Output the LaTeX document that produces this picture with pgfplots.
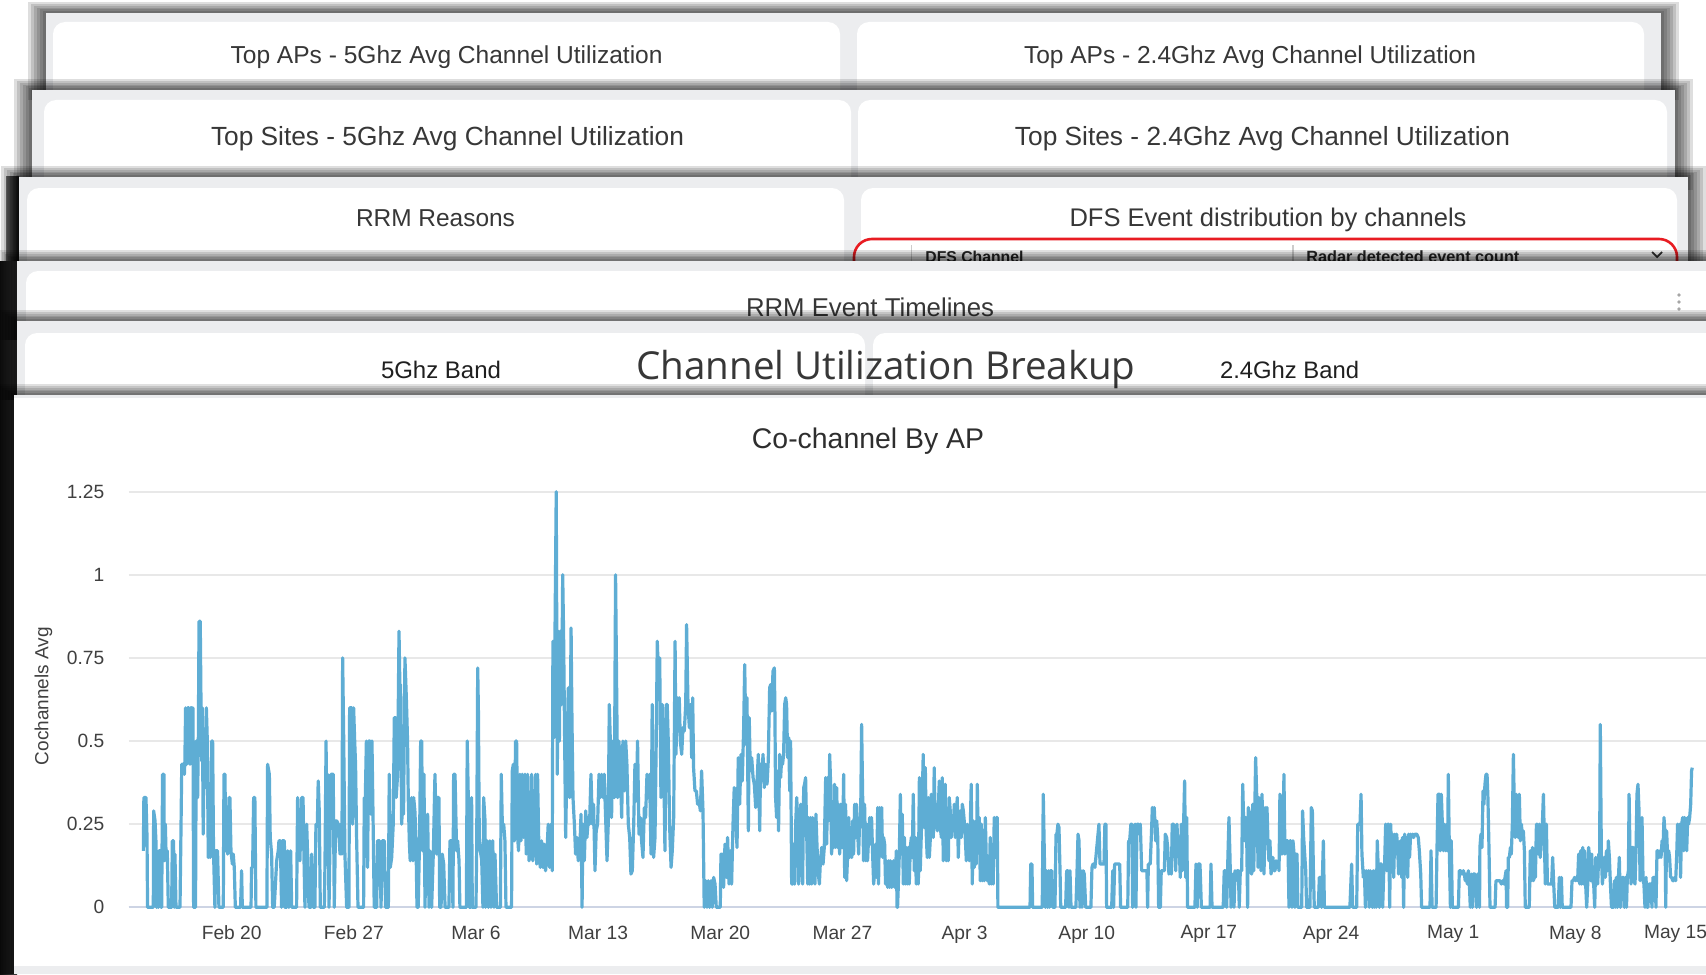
\documentclass[border=0pt]{standalone}
\usepackage{fontspec}
\setmainfont{Liberation Sans}
\newfontfamily\opensans{Open Sans}
\usepackage{graphicx}
\usepackage{pgfplots}
\pgfplotsset{compat=1.18}
\definecolor{linec}{RGB}{94,173,212}
\definecolor{panel}{RGB}{236,237,239}
\definecolor{hdr}{RGB}{55,55,55}
\definecolor{gridc}{RGB}{232,232,232}
\definecolor{basec}{RGB}{205,212,228}
\definecolor{tickc}{RGB}{64,64,64}
\definecolor{redb}{RGB}{232,28,34}
\newlength\pxu \setlength\pxu{0.5pt}
\newcommand\fitw[2]{\resizebox{#1\pxu}{!}{#2}}
\newcommand\cardshadow[5]{\foreach \s in {18,15,12,9,6,3}{\fill[black,opacity=#5] ({#1-\s},{#2-0.6*\s}) rectangle ({#3+\s},#4);}}
\begin{document}
\begin{tikzpicture}
\path[use as bounding box] (0,0) rectangle (853pt,-487pt);
\begin{scope}[x=0.5pt,y=-0.5pt]
\fill[white] (0,0) rectangle (1706,974);
% card 1
\cardshadow{46}{13}{1661}{100}{0.13}
\fill[panel] (46,13) rectangle (1661,100);
\fill[white, rounded corners=6] (53,22) rectangle (840,112);
\fill[white, rounded corners=6] (857,22) rectangle (1644,112);
\node[anchor=base, text=hdr, inner sep=0pt] at (446.6,63.3) {\fitw{432}{Top APs - 5Ghz Avg Channel Utilization}};
\node[anchor=base, text=hdr, inner sep=0pt] at (1250,63.3) {\fitw{452}{Top APs - 2.4Ghz Avg Channel Utilization}};
% card 2
\cardshadow{32}{90}{1675}{190}{0.13}
\fill[panel] (32,90) rectangle (1675,190);
\fill[white, rounded corners=6] (44,100) rectangle (851,200);
\fill[white, rounded corners=6] (858,100) rectangle (1667,200);
\node[anchor=base, text=hdr, inner sep=0pt] at (447.5,145.7) {\fitw{473}{Top Sites - 5Ghz Avg Channel Utilization}};
\node[anchor=base, text=hdr, inner sep=0pt] at (1262.5,145.7) {\fitw{495}{Top Sites - 2.4Ghz Avg Channel Utilization}};
% card 3
\shade[left color=black!55, right color=black!90] (6,176) rectangle (19,262);
\cardshadow{19}{177}{1688}{280}{0.13}
\fill[panel] (19,177) rectangle (1688,280);
\fill[white, rounded corners=6] (27,188) rectangle (844,290);
\fill[white, rounded corners=6] (861,188) rectangle (1677,290);
\node[anchor=base, text=hdr, inner sep=0pt] at (435.5,226) {\fitw{159}{RRM Reasons}};
\node[anchor=base, text=hdr, inner sep=0pt] at (1268,226) {\fitw{397}{DFS Event distribution by channels}};
\fill[white, rounded corners=9] (854,239) rectangle (1677,300);
\draw[redb, line width=1.3pt, rounded corners=9] (854,239) rectangle (1677,300);
\draw[black!20, line width=0.8pt] (911.5,245) -- (911.5,262);
\draw[black!20, line width=0.8pt] (1292.7,245) -- (1292.7,262);
\node[anchor=base west, text=black!85, inner sep=0pt] at (925,262.5) {\fitw{98}{\bfseries DFS Channel}};
\node[anchor=base west, text=black!85, inner sep=0pt] at (1306,262.5) {\fitw{213}{\bfseries Radar detected event count}};
\draw[black!80, line width=0.9pt] (1652,252) -- (1657,257) -- (1662,252);
% dark left band
\shade[left color=black!95, right color=black!75] (0,261) rectangle (17,974);
% card 4
\cardshadow{16.5}{261}{1720}{340}{0.12}
\fill[panel] (16.5,261) rectangle (1720,340);
\fill[white, rounded corners=6] (26,271) rectangle (1720,350);
\node[anchor=base, text=hdr, inner sep=0pt] at (870,316.7) {\fitw{248}{RRM Event Timelines}};
\fill[black!35] (1679,295) circle (1.8);
\fill[black!35] (1679,302) circle (1.8);
\fill[black!35] (1679,309) circle (1.8);
% card 5
\cardshadow{16.5}{321}{1720}{400}{0.12}
\fill[panel] (16.5,321) rectangle (1720,400);
\fill[white, rounded corners=6] (25,333) rectangle (865,410);
\fill[white, rounded corners=6] (873,333) rectangle (1720,410);
\node[anchor=base, text=black!88, inner sep=0pt] at (441,378.3) {\fitw{120}{5Ghz Band}};
\node[anchor=base, text=black!88, inner sep=0pt] at (1289.5,378.3) {\fitw{139}{2.4Ghz Band}};
\node[anchor=base, text=hdr, inner sep=0pt] at (886,379.3) {\fitw{499}{\opensans Channel Utilization Breakup}};
% card 6
\cardshadow{14}{395}{1720}{974}{0.12}
\fill[panel] (14,395) rectangle (1720,974);
\fill[white] (14,398) rectangle (1720,966);
\node[anchor=base, text=black!82, inner sep=0pt, font=\fontsize{14.2}{16}\selectfont] at (868,448.3) {Co-channel By AP};
\end{scope}
\begin{axis}[
  at={(64.35pt,-453.65pt)}, anchor=south west, scale only axis,
  width=788.75pt, height=211.15pt,
  xmin=-5.9, xmax=84.5, ymin=0, ymax=1.27,
  clip=false,
  axis x line*=bottom, axis y line*=left,
  x axis line style={basec, line width=1pt},
  y axis line style={draw=none},
  major tick length=0pt,
  ymajorgrids, grid style={gridc, line width=1pt},
  ytick={0,0.25,0.5,0.75,1,1.25},
  yticklabels={0,0.25,0.5,0.75,1,1.25},
  xtick={0,7,...,77},
  xticklabels={Feb 20,Feb 27,Mar 6,Mar 13,Mar 20,Mar 27,Apr 3,Apr 10,Apr 17,Apr 24,May 1,May 8},
  extra x ticks={84}, extra x tick labels={May 15},
  extra x tick style={xticklabel style={xshift=-11pt}},
  ticklabel style={font=\fontsize{9.6}{11}\selectfont, text=tickc},
  xticklabel style={anchor=north, inner sep=0pt, yshift=-9pt},
  yticklabel style={anchor=east, inner sep=0pt, xshift=-12pt},
  ylabel={Cochannels Avg},
  ylabel style={at={(axis description cs:-0.054,0.5)}, anchor=center, font=\fontsize{9.5}{11}\selectfont, text=tickc},
]
\addplot[color=linec, line width=1.6pt, line join=round] coordinates {
(-5.06,0.17) (-5.03,0.33) (-4.91,0.33) (-4.85,0.21) (-4.82,0) (-4.49,0) (-4.47,0.29) (-4.39,0.26) (-4.34,0.2) (-4.30,0) (-4.26,0.15) (-4.20,0) (-4.17,0.17) (-4.07,0.17) (-4.05,0) (-4.01,0) (-3.96,0.4) (-3.88,0.4) (-3.86,0.14) (-3.80,0.25) (-3.75,0.14) (-3.69,0.17) (-3.63,0) (-3.44,0) (-3.40,0.2) (-3.33,0.2) (-3.29,0) (-3.25,0.16) (-3.19,0) (-2.96,0) (-2.90,0.25) (-2.86,0.43) (-2.75,0.43) (-2.71,0.4) (-2.68,0.44) (-2.64,0.6) (-2.58,0.43) (-2.52,0.6) (-2.45,0.6) (-2.39,0.43) (-2.35,0.6) (-2.29,0.6) (-2.26,0.43) (-2.22,0.6) (-2.18,0) (-2.07,0) (-2.03,0.5) (-1.95,0.33) (-1.91,0.5) (-1.87,0.86) (-1.80,0.86) (-1.76,0.63) (-1.72,0.44) (-1.68,0.6) (-1.63,0.22) (-1.57,0.5) (-1.51,0.36) (-1.45,0.6) (-1.40,0.51) (-1.34,0.15) (-1.28,0.17) (-1.23,0.15) (-1.15,0.5) (-1.09,0.5) (-1.04,0.17) (-0.96,0) (-0.92,0.17) (-0.81,0.17) (-0.73,0) (-0.48,0) (-0.44,0.4) (-0.38,0.4) (-0.35,0.17) (-0.29,0.28) (-0.23,0.16) (-0.15,0.33) (-0.10,0.33) (-0.04,0.17) (0.04,0.13) (0.09,0.16) (0.15,0.12) (0.21,0) (0.51,0) (0.57,0.11) (0.61,0) (1.11,0) (1.14,0.12) (1.20,0.12) (1.26,0.33) (1.33,0.33) (1.39,0) (2.02,0) (2.06,0.43) (2.16,0.4) (2.21,0.21) (2.29,0.16) (2.35,0) (2.44,0) (2.58,0.14) (2.67,0.17) (2.71,0.2) (2.79,0.2) (2.86,0) (2.90,0.2) (3.02,0.2) (3.05,0) (3.15,0) (3.21,0.17) (3.28,0) (3.38,0.17) (3.44,0) (3.72,0) (3.78,0.33) (3.86,0.17) (3.91,0.14) (4.01,0.33) (4.09,0.33) (4.14,0.16) (4.20,0) (4.30,0.25) (4.35,0.16) (4.43,0) (4.54,0) (4.58,0.16) (4.68,0) (4.77,0) (4.83,0.25) (4.91,0.25) (4.96,0.38) (5.02,0.29) (5.08,0) (5.31,0) (5.35,0.14) (5.41,0.5) (5.46,0.16) (5.50,0.4) (5.58,0) (5.69,0.4) (5.82,0.4) (5.88,0) (5.96,0.26) (6.02,0.26) (6.11,0.25) (6.21,0.16) (6.26,0.25) (6.32,0.16) (6.36,0.75) (6.42,0.51) (6.49,0.16) (6.59,0) (6.72,0) (6.76,0.6) (6.88,0.6) (6.93,0.25) (6.99,0.6) (7.05,0.5) (7.10,0.43) (7.16,0.21) (7.24,0) (7.56,0) (7.60,0.33) (7.66,0.33) (7.72,0.5) (7.79,0.12) (7.85,0.5) (7.93,0.5) (7.98,0.28) (8.04,0.5) (8.10,0.28) (8.17,0) (8.31,0) (8.36,0.2) (8.48,0.2) (8.56,0) (8.63,0.2) (8.75,0.2) (8.82,0) (8.98,0) (9.03,0.4) (9.09,0.12) (9.17,0.15) (9.26,0.25) (9.32,0.57) (9.40,0.57) (9.43,0.33) (9.51,0.4) (9.59,0.83) (9.65,0.63) (9.68,0.67) (9.74,0.25) (9.80,0.31) (9.85,0.28) (9.93,0.75) (10.01,0.63) (10.08,0.5) (10.12,0.33) (10.18,0.2) (10.23,0.14) (10.31,0.33) (10.39,0.14) (10.43,0.33) (10.50,0.29) (10.56,0.21) (10.62,0) (10.69,0) (10.77,0.21) (10.83,0.5) (10.89,0.5) (10.94,0.17) (11.02,0.4) (11.08,0) (11.15,0.25) (11.23,0.28) (11.31,0) (11.36,0.17) (11.46,0) (11.56,0.17) (11.65,0.4) (11.75,0.16) (11.81,0.33) (11.88,0.33) (11.92,0) (12.00,0) (12.07,0.16) (12.15,0.13) (12.23,0) (12.45,0) (12.51,0.2) (12.61,0.2) (12.68,0) (12.72,0.4) (12.80,0.40)
(12.89,0.17) (12.95,0.20) (13.03,0.14) (13.08,0) (13.45,0) (13.50,0.50) (13.56,0.33) (13.62,0) (13.71,0) (13.75,0.33) (13.79,0) (14.00,0) (14.04,0.17) (14.10,0.72) (14.14,0.59) (14.19,0.21) (14.25,0.17) (14.33,0.14) (14.40,0) (14.44,0.33) (14.52,0.26) (14.55,0) (14.63,0.20) (14.71,0) (14.80,0.20) (14.86,0) (14.96,0.20) (15.03,0) (15.09,0.16) (15.18,0) (15.40,0) (15.45,0.40) (15.51,0.25) (15.59,0.25) (15.66,0.20) (15.72,0) (16.04,0) (16.08,0.41) (16.14,0.43) (16.20,0.20) (16.27,0.50) (16.33,0.50) (16.39,0.21) (16.44,0.17) (16.52,0.40) (16.58,0.20) (16.65,0.40) (16.73,0.21) (16.81,0.40) (16.88,0.16) (16.96,0.40) (17.04,0.14) (17.11,0.16) (17.19,0.40) (17.26,0.14) (17.34,0.19) (17.42,0.40) (17.48,0.13) (17.53,0.40) (17.61,0.16) (17.69,0.12) (17.76,0.20) (17.84,0.12) (17.91,0.19) (17.99,0.11) (18.07,0.17) (18.14,0.25) (18.22,0.12) (18.30,0.25) (18.37,0.11) (18.41,0.80) (18.47,0.51) (18.53,0.83) (18.60,1.25) (18.66,0.40) (18.72,0.83) (18.78,0.50) (18.83,0.83) (18.91,0.61) (18.97,1.0) (19.02,0.83) (19.08,0.51) (19.14,0.21) (19.22,0.46) (19.29,0.66) (19.37,0.33) (19.45,0.84) (19.50,0.57) (19.56,0.33) (19.64,0.25) (19.71,0.16) (19.79,0.21) (19.86,0.14) (19.94,0.16) (20.02,0.28) (20.08,0) (20.13,0.25) (20.21,0.14) (20.29,0.29) (20.36,0.21) (20.44,0.27) (20.51,0.25) (20.59,0.40) (20.67,0.25) (20.74,0.31) (20.82,0.11) (20.89,0.23) (20.97,0.25) (21.05,0.40) (21.12,0.33) (21.20,0.40) (21.28,0.33) (21.35,0.40) (21.43,0.27) (21.51,0.14) (21.58,0.25) (21.64,0.61) (21.70,0.50) (21.77,0.27) (21.85,0.50) (21.93,0.33) (22.00,1.0) (22.06,0.67) (22.12,0.33) (22.19,0.50) (22.27,0.43) (22.35,0.27) (22.42,0.50) (22.50,0.35) (22.58,0.50) (22.65,0.43) (22.73,0.25) (22.81,0.21) (22.88,0.10) (22.96,0.11) (23.04,0.25) (23.11,0.43) (23.19,0.32) (23.26,0.50) (23.34,0.22) (23.42,0.27) (23.49,0.20) (23.57,0.15) (23.65,0.30) (23.72,0.27) (23.80,0.40) (23.88,0.33) (23.95,0.40) (24.03,0.16) (24.10,0.61) (24.18,0.15) (24.26,0.21) (24.33,0.50) (24.39,0.80) (24.45,0.71) (24.53,0.75) (24.60,0.33) (24.68,0.61) (24.76,0.43) (24.83,0.17) (24.91,0.61) (24.96,0.61) (25.02,0.50) (25.10,0.24) (25.18,0.12) (25.25,0.17) (25.33,0.27) (25.41,0.80) (25.46,0.46) (25.54,0.63) (25.60,0.53) (25.65,0.63) (25.71,0.50) (25.79,0.46) (25.86,0.54) (25.94,0.53) (26.02,0.61) (26.07,0.85) (26.15,0.61) (26.23,0.54) (26.30,0.61) (26.36,0.45) (26.42,0.63) (26.47,0.42) (26.55,0.35) (26.63,0.35) (26.70,0.31) (26.78,0.32) (26.86,0.29) (26.93,0.41) (27.01,0.29) (27.08,0) (27.16,0.08) (27.24,0) (27.31,0.08) (27.39,0) (27.47,0.08) (27.54,0) (27.62,0.09) (27.70,0.07) (27.77,0) (28.00,0) (28.04,0.16) (28.12,0.16) (28.19,0.06) (28.27,0.19) (28.35,0.09) (28.42,0.21) (28.50,0.07) (28.58,0.17) (28.65,0.07) (28.73,0.25) (28.80,0.36) (28.88,0.28) (28.96,0.18) (29.03,0.45) (29.11,0.31) (29.19,0.46) (29.26,0.38) (29.34,0.54) (29.40,0.73) (29.47,0.49) (29.53,0.63) (29.61,0.23) (29.66,0.57) (29.72,0.41) (29.80,0.45) (29.88,0.39) (29.95,0.37) (30.03,0.30) (30.11,0.38) (30.18,0.46) (30.26,0.23) (30.31,0.43) (30.37,0.38) (30.45,0.46) (30.52,0.36) (30.60,0.43) (30.68,0.37) (30.75,0.44) (30.83,0.66) (30.89,0.67) (30.95,0.59) (31.02,0.71) (31.10,0.72)
(31.13,0.59) (31.17,0.33) (31.23,0.27) (31.29,0.41) (31.34,0.23) (31.40,0.46) (31.46,0.39) (31.52,0.45) (31.57,0.43) (31.63,0.46) (31.69,0.61) (31.75,0.63) (31.80,0.61) (31.86,0.45) (31.92,0.51) (31.98,0.35) (32.03,0.50) (32.09,0.07) (32.15,0.07) (32.20,0.19) (32.26,0.07) (32.32,0.25) (32.38,0.33) (32.43,0.27) (32.49,0.07) (32.55,0.15) (32.61,0.31) (32.66,0.23) (32.72,0.07) (32.78,0.36) (32.83,0.37) (32.89,0.39) (32.95,0.23) (33.01,0.07) (33.06,0.27) (33.12,0.07) (33.18,0.27) (33.24,0.07) (33.29,0.27) (33.35,0.19) (33.43,0.07) (33.48,0.28) (33.54,0.19) (33.60,0.11) (33.68,0.07) (33.73,0.13) (33.81,0.18) (33.89,0.13) (33.96,0.18) (34.04,0.39) (34.10,0.19) (34.15,0.39) (34.21,0.26) (34.27,0.46) (34.33,0.36) (34.38,0.16) (34.44,0.29) (34.50,0.18) (34.55,0.37) (34.61,0.18) (34.67,0.36) (34.73,0.18) (34.78,0.31) (34.84,0.16) (34.90,0.31) (34.95,0.18) (35.01,0.18) (35.07,0.40) (35.13,0.09) (35.18,0.31) (35.24,0.08) (35.30,0.16) (35.36,0.27) (35.41,0.15) (35.47,0.16) (35.53,0.15) (35.58,0.26) (35.64,0.16) (35.70,0.31) (35.76,0.21) (35.81,0.31) (35.87,0.23) (35.93,0.16) (35.99,0.27) (36.04,0.25) (36.10,0.55) (36.16,0.33) (36.21,0.14) (36.27,0.31) (36.33,0.14) (36.39,0.25) (36.44,0.14) (36.50,0.21) (36.56,0.27) (36.61,0.19) (36.67,0.27) (36.73,0.16) (36.79,0.07) (36.84,0.10) (36.90,0.19) (36.96,0.09) (37.02,0.30) (37.07,0.07) (37.13,0.30) (37.19,0.17) (37.25,0.30) (37.30,0.15) (37.36,0.21) (37.42,0.19) (37.47,0.07) (37.53,0.14) (37.59,0.06) (37.65,0.14) (37.70,0.06) (37.76,0.14) (37.82,0.06) (37.88,0.07) (37.93,0.14) (38.01,0.06) (38.09,0.17) (38.13,0) (38.16,0) (38.20,0.06) (38.26,0.16) (38.32,0.34) (38.37,0.16) (38.43,0.28) (38.49,0.07) (38.55,0.21) (38.60,0.07) (38.66,0.18) (38.72,0.07) (38.78,0.18) (38.83,0.07) (38.89,0.18) (38.95,0.21) (39.00,0.15) (39.06,0.34) (39.12,0.11) (39.18,0.21) (39.23,0.07) (39.29,0.17) (39.35,0.07) (39.41,0.39) (39.46,0.11) (39.52,0.22) (39.58,0.34) (39.63,0.46) (39.69,0.24) (39.75,0.42) (39.81,0.21) (39.86,0.15) (39.92,0.33) (39.98,0.15) (40.04,0.21) (40.09,0.34) (40.15,0.27) (40.21,0.21) (40.26,0.42) (40.32,0.24) (40.38,0.31) (40.44,0.23) (40.49,0.29) (40.55,0.38) (40.61,0.24) (40.67,0.21) (40.72,0.39) (40.78,0.14) (40.84,0.26) (40.89,0.37) (40.95,0.14) (41.01,0.27) (41.07,0.14) (41.12,0.33) (41.18,0.29) (41.24,0.21) (41.30,0.27) (41.35,0.23) (41.41,0.31) (41.47,0.21) (41.52,0.26) (41.58,0.33) (41.64,0.15) (41.70,0.26) (41.75,0.29) (41.81,0.21) (41.87,0.31) (41.93,0.29) (41.98,0.26) (42.04,0.21) (42.10,0.14) (42.15,0.25) (42.21,0.19) (42.27,0.14) (42.33,0.25) (42.38,0.37) (42.44,0.07) (42.50,0.26) (42.56,0.12) (42.61,0.25) (42.67,0.13) (42.73,0.37) (42.78,0.19) (42.84,0.27) (42.90,0.08) (42.96,0.25) (43.01,0.08) (43.07,0.23) (43.13,0.08) (43.19,0.27) (43.24,0.15) (43.30,0.08) (43.36,0.15) (43.41,0.07) (43.47,0.21) (43.53,0.07) (43.59,0.15) (43.64,0.07) (43.70,0.27) (43.76,0.15) (43.82,0.27) (43.87,0.27) (43.91,0) (45.75,0) (45.79,0.13) (45.86,0.13) (45.90,0) (46.45,0) (46.51,0.34) (46.57,0.16) (46.63,0) (46.70,0.11) (46.76,0) (46.82,0.11) (46.87,0) (46.93,0.11) (46.99,0.11) (47.05,0) (47.18,0) (47.24,0.22) (47.29,0.22) (47.35,0.25) (47.41,0.24) (47.47,0.11) (47.51,0) (47.79,0) (47.85,0.11) (47.92,0.11) (47.98,0) (48.04,0.11) (48.10,0) (48.38,0) (48.44,0.10) (48.50,0.22) (48.56,0.20) (48.61,0) (48.67,0.11) (48.73,0) (48.80,0.11) (48.86,0.10) (48.94,0) (49.24,0) (49.30,0.12) (49.36,0.13) (49.43,0.13) (49.47,0.12)
(49.70,0.25) (49.76,0.13) (49.85,0.13) (49.99,0.13) (50.04,0.25) (50.10,0.25) (50.14,0) (50.43,0) (50.49,0.11) (50.54,0) (50.60,0.13) (50.81,0.13) (50.89,0.13) (50.94,0) (51.35,0) (51.40,0.20) (51.46,0.20) (51.53,0.25) (51.59,0.25) (51.63,0) (51.69,0.21) (51.77,0.25) (51.82,0) (51.88,0.25) (51.96,0.25) (52.02,0.22) (52.07,0.25) (52.15,0.11) (52.34,0.11) (52.45,0.11) (52.49,0) (52.53,0.13) (52.64,0.13) (52.70,0.21) (52.76,0.30) (52.83,0.27) (52.87,0.30) (52.95,0.20) (53.01,0.26) (53.07,0.21) (53.12,0) (53.22,0) (53.27,0.11) (53.35,0.11) (53.45,0.11) (53.50,0.22) (53.58,0.21) (53.64,0.18) (53.71,0.10) (53.77,0.11) (53.85,0.10) (53.90,0.25) (53.98,0.25) (54.04,0.19) (54.10,0.11) (54.17,0.25) (54.23,0.18) (54.30,0.18) (54.36,0.09) (54.42,0.25) (54.48,0.11) (54.55,0.25) (54.61,0.38) (54.67,0.09) (54.73,0.27) (54.78,0) (54.88,0) (55.20,0) (55.26,0.13) (55.33,0) (55.39,0.13) (55.49,0.13) (55.57,0) (56.07,0) (56.12,0.13) (56.18,0) (56.82,0) (56.88,0.11) (56.94,0.11) (57.02,0) (57.07,0.11) (57.15,0.27) (57.21,0.15) (57.27,0) (57.32,0.08) (57.38,0.10) (57.44,0) (57.50,0.11) (57.55,0.08) (57.61,0.11) (57.69,0.11) (57.74,0) (57.80,0.11) (57.88,0.11) (57.94,0.37) (57.99,0.26) (58.05,0.20) (58.11,0.27) (58.17,0.20) (58.22,0) (58.26,0.30) (58.32,0.28) (58.38,0.11) (58.45,0.10) (58.51,0.31) (58.57,0.11) (58.63,0.29) (58.68,0.45) (58.76,0.30) (58.82,0.12) (58.87,0.33) (58.93,0.20) (58.99,0.11) (59.04,0.34) (59.10,0.25) (59.16,0.10) (59.22,0.30) (59.27,0.23) (59.33,0.30) (59.39,0.19) (59.44,0.14) (59.50,0.20) (59.56,0.10) (59.62,0.12) (59.67,0.15) (59.73,0.11) (59.79,0.11) (59.85,0.14) (59.90,0.12) (59.96,0.14) (60.02,0.11) (60.07,0.34) (60.13,0.33) (60.19,0.16) (60.25,0.18) (60.30,0.40) (60.36,0.16) (60.42,0.20) (60.48,0.20) (60.53,0.20) (60.59,0) (60.65,0.20) (60.70,0.20) (60.76,0) (60.82,0.20) (60.88,0.16) (60.93,0) (60.99,0.16) (61.05,0.16) (61.10,0) (61.32,0) (61.37,0.29) (61.43,0.21) (61.49,0.16) (61.55,0.11) (61.60,0) (61.79,0) (61.87,0.30) (61.93,0.29) (61.99,0.11) (62.04,0) (62.27,0) (62.33,0.09) (62.41,0.09) (62.46,0) (62.56,0.20) (62.62,0) (62.75,0) (64.08,0) (64.18,0.13) (64.24,0) (64.47,0) (64.53,0.25) (64.58,0.25) (64.66,0.25) (64.72,0.34) (64.77,0.16) (64.85,0.09) (64.91,0.11) (64.97,0) (65.02,0.11) (65.08,0.09) (65.14,0.11) (65.19,0) (65.25,0.11) (65.31,0.09) (65.37,0) (65.42,0.11) (65.48,0) (65.54,0.11) (65.59,0) (65.65,0.20) (65.71,0.11) (65.77,0) (65.82,0.13) (65.90,0.13) (65.96,0) (66.02,0.11) (66.07,0.13) (66.13,0.25) (66.19,0.11) (66.25,0.25) (66.30,0.25) (66.36,0) (66.42,0.25) (66.47,0.15) (66.53,0.22) (66.59,0.09) (66.65,0.22) (66.70,0.16) (66.76,0.22) (66.82,0.18) (66.87,0.10) (66.93,0.18) (66.99,0.20) (67.05,0.09) (67.10,0.21) (67.16,0) (67.22,0.22) (67.28,0.18) (67.33,0.21) (67.39,0.09) (67.45,0.22) (67.50,0.15) (67.56,0.22) (67.62,0.21) (67.68,0.22) (67.73,0.21) (67.81,0.22)
(67.91,0.22) (68.00,0.21) (68.06,0.17) (68.14,0.10) (68.19,0) (68.67,0) (68.73,0.17) (68.79,0) (69.02,0) (69.07,0.17) (69.13,0.34) (69.21,0.34) (69.26,0.17) (69.32,0.34) (69.38,0.25) (69.44,0.17) (69.49,0.25) (69.57,0.17) (69.63,0.25) (69.68,0.17) (69.72,0.40) (69.78,0.17) (69.84,0) (69.89,0.20) (69.95,0) (70.30,0) (70.35,0.11) (70.43,0.11) (70.50,0.10) (70.58,0.11) (70.64,0.10) (70.69,0.08) (70.75,0.10) (70.81,0.07) (70.87,0.11) (70.92,0.08) (70.98,0) (71.04,0.10) (71.10,0) (71.15,0.10) (71.25,0.10) (71.34,0) (71.40,0.10) (71.45,0.10) (71.51,0) (71.53,0.18) (71.59,0.22) (71.65,0.18) (71.71,0.35) (71.76,0.31) (71.82,0.37) (71.88,0.40) (71.94,0.40) (71.99,0.33) (72.05,0.18) (72.11,0) (72.40,0) (72.45,0.08) (72.53,0.08) (72.61,0.08) (72.68,0.08) (72.76,0.07) (72.84,0.08) (72.91,0.07) (72.97,0.09) (73.03,0.11) (73.06,0) (73.12,0) (73.16,0.15) (73.22,0.15) (73.28,0.18) (73.33,0.16) (73.39,0.25) (73.45,0.46) (73.50,0.31) (73.56,0.21) (73.62,0.34) (73.68,0.25) (73.73,0.21) (73.79,0.34) (73.85,0.20) (73.91,0.25) (73.96,0.21) (74.02,0.23) (74.08,0.17) (74.13,0) (74.36,0) (74.42,0.17) (74.48,0.08) (74.54,0.18) (74.59,0.08) (74.65,0.09) (74.71,0.09) (74.77,0.25) (74.82,0.25) (74.88,0.16) (74.94,0.25) (74.99,0.15) (75.05,0.21) (75.11,0.25) (75.17,0.34) (75.22,0.21) (75.28,0.07) (75.34,0.25) (75.40,0.07) (75.45,0.07) (75.51,0.07) (75.57,0.07) (75.64,0.07) (75.70,0.15) (75.76,0.07) (75.82,0) (76.02,0) (76.08,0.09) (76.14,0) (76.20,0.09) (76.25,0) (76.75,0) (76.81,0.08) (76.88,0.08) (76.96,0.09) (77.02,0.08) (77.08,0.09) (77.13,0.08) (77.19,0.16) (77.25,0.07) (77.31,0.17) (77.36,0.07) (77.42,0.18) (77.48,0.07) (77.53,0.17) (77.59,0.07) (77.65,0) (77.71,0.07) (77.76,0.18) (77.82,0.15) (77.88,0.08) (77.94,0.16) (77.99,0.08) (78.05,0.07) (78.11,0) (78.17,0.15) (78.22,0.14) (78.28,0.07) (78.34,0.16) (78.39,0.15) (78.43,0.55) (78.49,0.16) (78.55,0.07) (78.61,0.11) (78.66,0.15) (78.72,0.09) (78.78,0.17) (78.84,0.11) (78.89,0.20) (78.95,0.15) (79.01,0.07) (79.07,0) (79.18,0) (79.24,0.08) (79.29,0) (79.35,0.09) (79.41,0) (79.47,0.09) (79.52,0.15) (79.58,0) (79.64,0.07) (79.70,0.09) (79.75,0.09) (79.81,0) (79.87,0.09) (79.93,0) (79.98,0.09) (80.04,0.11) (80.08,0.34) (80.13,0.17) (80.19,0.07) (80.25,0.18) (80.31,0.18) (80.36,0.08) (80.42,0.07) (80.48,0.18) (80.53,0.34) (80.59,0.37) (80.65,0.29) (80.71,0.08) (80.76,0.18) (80.82,0.27) (80.88,0.08) (80.93,0.07) (80.99,0) (81.05,0.09) (81.11,0) (81.16,0) (81.22,0.07) (81.28,0.07) (81.34,0.07) (81.39,0) (81.45,0.09) (81.51,0.09) (81.57,0.09) (81.62,0) (81.68,0.17) (81.74,0.17) (81.79,0.15) (81.85,0.17) (81.91,0.15) (81.97,0.20) (82.02,0.17) (82.08,0.27) (82.14,0.22) (82.18,0) (82.23,0.23) (82.29,0.15) (82.35,0.17) (82.40,0.15) (82.46,0.09) (82.52,0.09) (82.58,0.08) (82.63,0.08) (82.69,0.09) (82.75,0.08) (82.81,0.16) (82.86,0.25) (82.92,0.16) (82.98,0.25) (83.03,0.09) (83.09,0.25) (83.15,0.27) (83.21,0.17) (83.26,0.27) (83.32,0.25) (83.38,0.17) (83.44,0.27) (83.49,0.25) (83.55,0.27) (83.61,0.31) (83.66,0.41) (83.70,0.42)
};
\end{axis}
\end{tikzpicture}
\end{document}
